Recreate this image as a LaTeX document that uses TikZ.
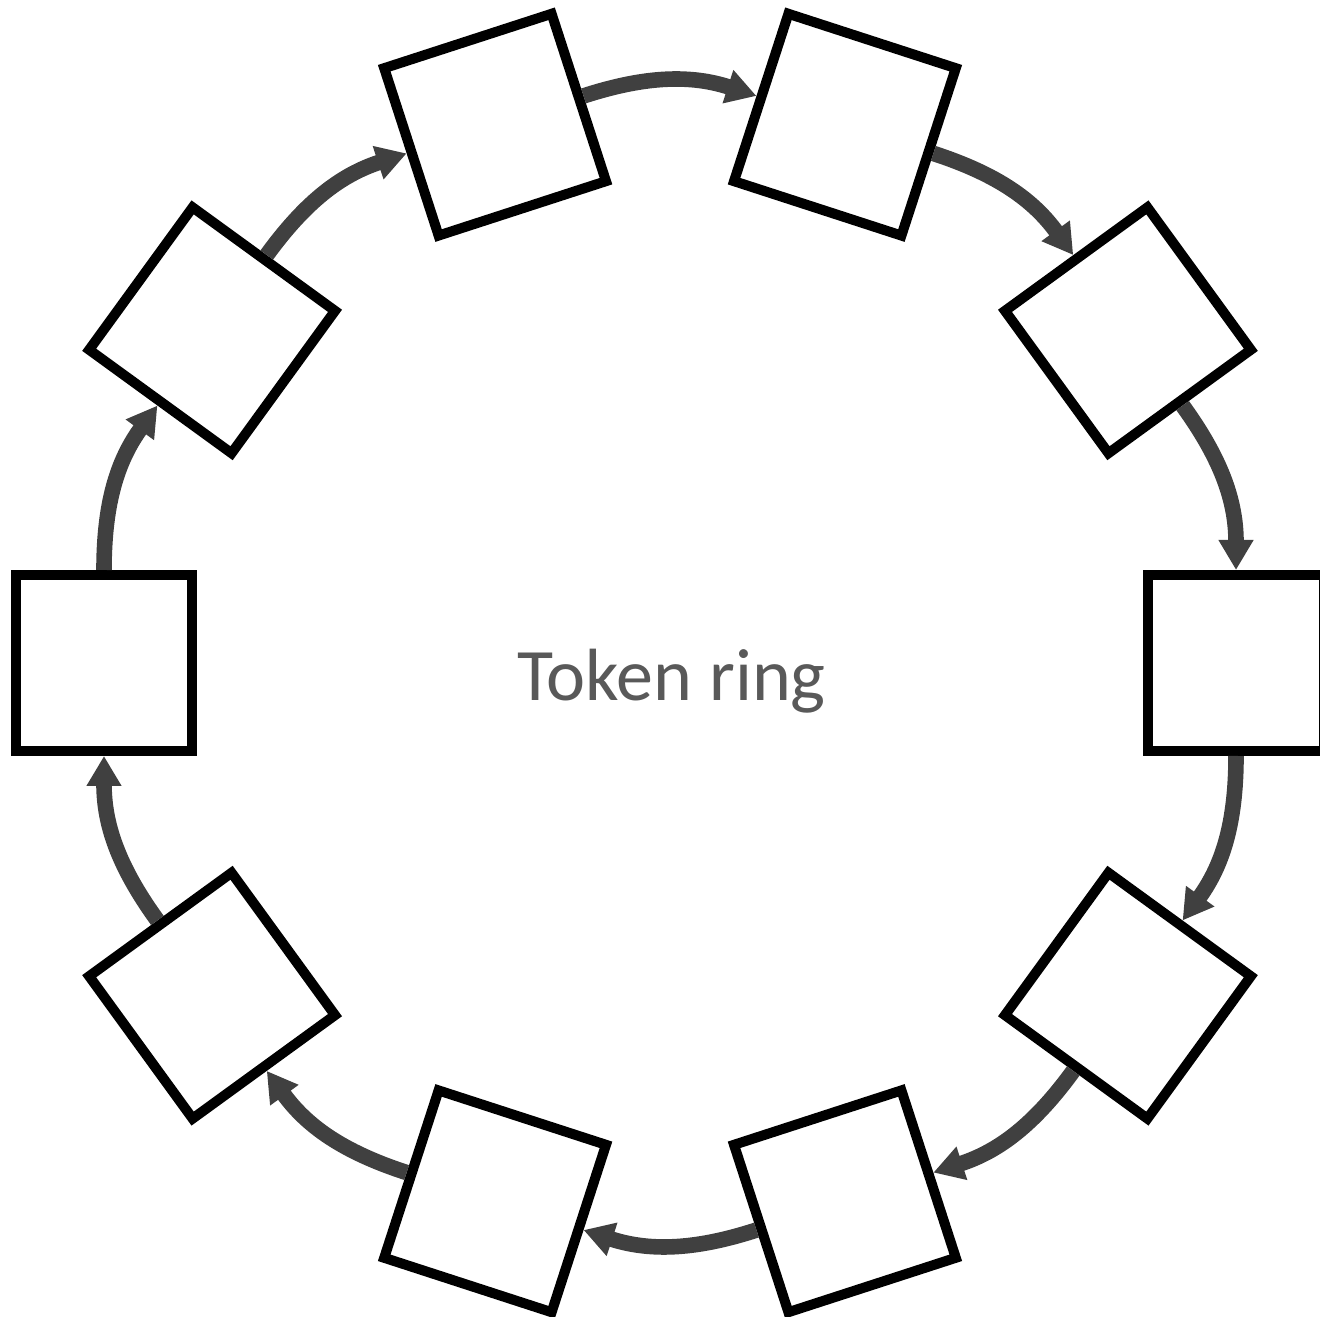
\documentclass[tikz,border=0pt]{standalone}
\usepackage{fontspec}
\setmainfont{Carlito}
\usetikzlibrary{arrows.meta,calc}
\definecolor{arrowgray}{HTML}{404040}
\definecolor{textgray}{HTML}{595959}
\begin{document}
\begin{tikzpicture}[x=0.5pt,y=0.5pt,
  station/.style={draw=black,line width=5pt,minimum size=88pt,inner sep=0pt,fill=white},
  ringarrow/.style={draw=arrowgray,line width=7.8pt,-{Triangle[width=16.5pt,length=15pt]}}]
\useasboundingbox (0,0) rectangle (1320,1316);
\clip (0,0) rectangle (1320,1316);
\coordinate (C) at (670,653);
\foreach \i in {0,...,9}{
  \pgfmathsetmacro\ang{\i*36}
  \node[station,rotate=\ang] (s\i) at ($(C)+(\ang:566)$) {};
}
\foreach \i [evaluate=\i as \j using {int(mod(\i+9,10))}] in {0,...,9}{
  \draw[ringarrow] (s\i.south) to[bend left=18] (s\j.north);
}
\node[text=textgray,font=\fontsize{37}{44}\selectfont,anchor=base] (title) at (671.5,615) {Token ring};
\end{tikzpicture}
\end{document}
